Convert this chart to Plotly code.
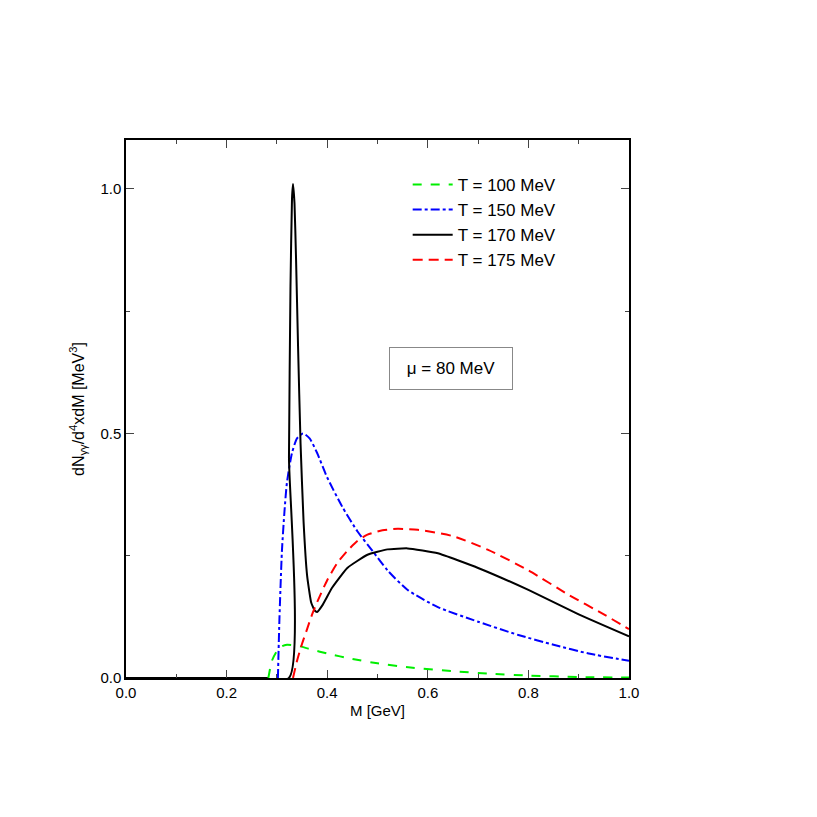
import plotly.graph_objects as go

m_green = [0.283, 0.29, 0.30, 0.31, 0.32, 0.34, 0.37, 0.40, 0.45, 0.50, 0.57, 0.65, 0.72, 0.80, 0.90, 1.00]
v_green = [0.0, 0.035, 0.055, 0.065, 0.068, 0.066, 0.058, 0.05, 0.039, 0.030, 0.021, 0.014, 0.009, 0.005, 0.002, 0.001]

m_blue = [0.302, 0.305, 0.31, 0.315, 0.32, 0.33, 0.34, 0.352, 0.365, 0.38, 0.40, 0.43, 0.46, 0.49, 0.52, 0.56, 0.62, 0.70, 0.78, 0.85, 0.92, 1.00]
v_blue = [0.0, 0.12, 0.26, 0.34, 0.40, 0.46, 0.49, 0.50, 0.49, 0.46, 0.41, 0.35, 0.30, 0.26, 0.22, 0.18, 0.145, 0.115, 0.088, 0.068, 0.05, 0.035]

m_black = [0.0, 0.3239, 0.324, 0.327, 0.330, 0.332, 0.335, 0.338, 0.342, 0.347, 0.353, 0.36, 0.368, 0.375, 0.38, 0.39, 0.41, 0.44, 0.48, 0.52, 0.56, 0.62, 0.70, 0.80, 0.90, 1.00]
v_black = [0.0, 0.0, 0.45, 0.80, 0.98, 1.01, 0.97, 0.86, 0.68, 0.48, 0.32, 0.21, 0.155, 0.138, 0.135, 0.148, 0.185, 0.225, 0.252, 0.263, 0.265, 0.255, 0.225, 0.18, 0.13, 0.085]

m_red = [0.332, 0.34, 0.35, 0.36, 0.37, 0.38, 0.40, 0.42, 0.44, 0.46, 0.48, 0.51, 0.54, 0.58, 0.65, 0.72, 0.80, 0.88, 0.95, 1.00]
v_red = [0.0, 0.035, 0.07, 0.10, 0.13, 0.155, 0.20, 0.235, 0.26, 0.28, 0.293, 0.302, 0.305, 0.303, 0.29, 0.262, 0.22, 0.17, 0.13, 0.10]

zero_m = [0.0, 0.283]
zero_v = [0.0, 0.0]

font = "Liberation Sans Narrow, Liberation Sans, Arial"
fig = go.Figure()
fig.add_trace(go.Scatter(x=zero_m, y=zero_v, mode="lines", line=dict(color="black", width=2), showlegend=False))
fig.add_trace(go.Scatter(x=m_green, y=v_green, mode="lines", name="T = 100 MeV", line=dict(color="#00ee00", width=2, dash="dash", shape="spline", smoothing=0.6)))
fig.add_trace(go.Scatter(x=m_blue, y=v_blue, mode="lines", name="T = 150 MeV", line=dict(color="#0000ff", width=2, dash="dashdot", shape="spline", smoothing=0.6)))
fig.add_trace(go.Scatter(x=m_black, y=v_black, mode="lines", name="T = 170 MeV", line=dict(color="black", width=2, shape="spline", smoothing=0.4)))
fig.add_trace(go.Scatter(x=m_red, y=v_red, mode="lines", name="T = 175 MeV", line=dict(color="#ff0000", width=2, dash="10px,6px", shape="spline", smoothing=0.6)))

axis = dict(showline=True, linecolor="black", linewidth=1.5, mirror="ticks", ticks="inside", ticklen=8,
            showgrid=False, zeroline=False, tickfont=dict(size=15, family=font))
fig.update_layout(
    width=817, height=817, paper_bgcolor="white", plot_bgcolor="white",
    margin=dict(l=118, r=196, t=132, b=147),
    font=dict(family=font, color="black"),
    xaxis=dict(axis, range=[0, 1], dtick=0.2, tickformat=".1f", minor=dict(ticks="inside", ticklen=4, dtick=0.1),
               title=dict(text="M [GeV]", font=dict(size=15), standoff=6)),
    yaxis=dict(axis, range=[0, 1.1], tickvals=[0, 0.5, 1.0], ticktext=["0.0", "0.5", "1.0"],
               minor=dict(ticks="inside", ticklen=4, tickvals=[0.25, 0.75]),
               title=dict(text="dN<sub>γγ</sub>/d<sup>4</sup>xdM [MeV<sup>3</sup>]", font=dict(size=16), standoff=12)),
    legend=dict(x=0.56, y=0.95, xanchor="left", yanchor="top", bgcolor="rgba(0,0,0,0)",
                font=dict(size=17, family=font), tracegroupgap=0, itemwidth=40),
    showlegend=True,
)
fig.add_annotation(xref="paper", yref="paper", x=0.77, y=0.576, text="μ = 80 MeV", showarrow=False,
                   font=dict(size=17, family=font), bordercolor="#888", borderwidth=1, borderpad=11,
                   bgcolor="white", width=100)
fig.write_html("out.html")
